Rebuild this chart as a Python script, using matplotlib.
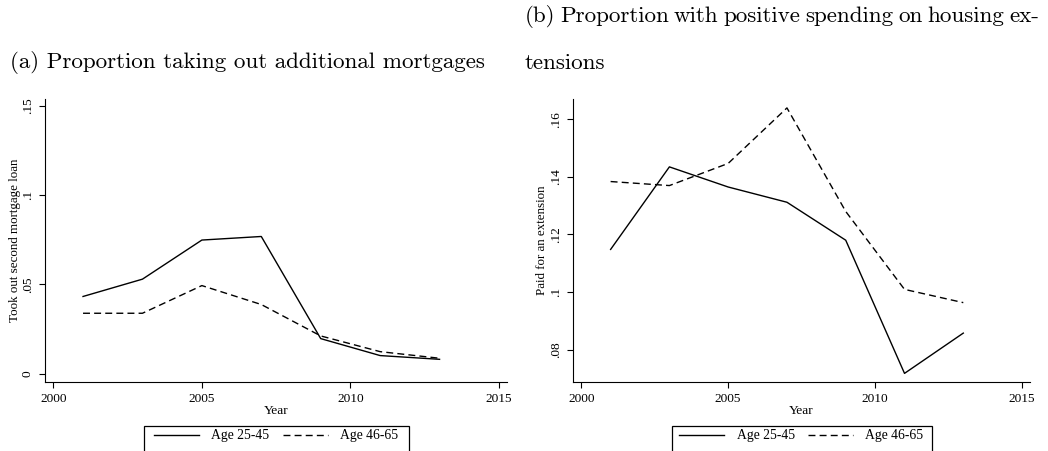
import matplotlib
matplotlib.use('Agg')
import matplotlib.pyplot as plt
from matplotlib.patches import Rectangle

years = [2001, 2003, 2005, 2007, 2009, 2011, 2013]

# (a) share taking out a second mortgage
mortgage_young = [0.0432, 0.0529, 0.0748, 0.0768, 0.0196, 0.0101, 0.0080]
mortgage_old = [0.0338, 0.0338, 0.0493, 0.0387, 0.0211, 0.0123, 0.0086]

# (b) share paying for a housing extension
extension_young = [0.1148, 0.1435, 0.1365, 0.1312, 0.1180, 0.0717, 0.0857]
extension_old = [0.1384, 0.1370, 0.1447, 0.1640, 0.1280, 0.1009, 0.0963]

labels = ["Age 25-45", "Age 46-65"]

W, H = 1048, 451
plt.rcParams['font.family'] = ['Liberation Serif', 'DejaVu Serif']
plt.rcParams['font.size'] = 9.4

fig = plt.figure(figsize=(W / 100, H / 100), dpi=100)


def px_axes(x0, x1, y0, y1):
    return fig.add_axes([x0 / W, 1 - y1 / H, (x1 - x0) / W, (y1 - y0) / H])


def style(ax, ylabel, yticks, yticklabels, ylim, xlabel_y, ylabel_x):
    for side in ('top', 'right'):
        ax.spines[side].set_visible(False)
    for side in ('left', 'bottom'):
        ax.spines[side].set_linewidth(0.8)
    ax.set_xlim(1999.72, 2015.27)
    ax.set_ylim(*ylim)
    ax.set_xticks([2000, 2005, 2010, 2015])
    ax.set_yticks(yticks)
    ax.set_yticklabels(yticklabels, rotation=90, va='center')
    ax.tick_params(length=4.5, width=0.8, pad=3.5, labelsize=9.6)
    ax.set_xlabel("Year", fontsize=9.6)
    ax.set_ylabel(ylabel)
    ax.xaxis.set_label_coords(0.5, xlabel_y)
    ax.xaxis.label.set_va('center')
    ax.yaxis.set_label_coords(ylabel_x, 0.5)
    ax.yaxis.label.set_va('center')


def draw(ax, young, old):
    l1, = ax.plot(years, young, color='black', lw=1.0)
    l2, = ax.plot(years, old, color='black', lw=1.0, dashes=(5, 3))
    return l1, l2


def legend(handles, cx, x0, x1):
    # box runs off the bottom edge, so draw it by hand
    fig.patches.append(Rectangle((x0 / W, 1 - 460 / H), (x1 - x0) / W, 34 / H,
                                 transform=fig.transFigure, fill=False,
                                 edgecolor='black', lw=0.9))
    fig.legend(handles, labels, loc='center', bbox_to_anchor=(cx / W, 1 - 436 / H),
               ncol=2, frameon=False, handlelength=3.3, handletextpad=0.9,
               columnspacing=1.0, fontsize=9.8, borderpad=0)


def justified(line, x0, x1, y, **kw):
    # spread the words of one caption line evenly between x0 and x1 (pixels)
    words = line.split(" ")
    texts = [fig.text(0, 1 - y / H, w, ha='left', va='center', **kw) for w in words]
    r = fig.canvas.get_renderer()
    widths = [t.get_window_extent(renderer=r).width for t in texts]
    gap = (x1 - x0 - sum(widths)) / (len(words) - 1)
    x = x0
    for t, w in zip(texts, widths):
        t.set_x(x / W)
        x += w + gap


ax1 = px_axes(45, 507, 99, 382)
h = draw(ax1, mortgage_young, mortgage_old)
style(ax1, "Took out second mortgage loan", [0, 0.05, 0.1, 0.15],
      ["0", ".05", ".1", ".15"], (-0.0047, 0.1538), -0.1025, -0.065)
legend(h, 276, 144, 409)

ax2 = px_axes(573, 1030, 99, 382)
h = draw(ax2, extension_young, extension_old)
style(ax2, "Paid for an extension", [0.08, 0.10, 0.12, 0.14, 0.16],
      [".08", ".1", ".12", ".14", ".16"], (0.0687, 0.1671), -0.1025, -0.0685)
legend(h, 801.5, 672, 932)

title_font = dict(family='cmr10', fontsize=16.6)
fig.text(10 / W, 1 - 63 / H, "(a) Proportion taking out additional mortgages",
         ha='left', va='center', **title_font)
justified("(b) Proportion with positive spending on housing ex-", 525, 1039, 16, **title_font)
fig.text(525 / W, 1 - 63 / H, "tensions", ha='left', va='center', **title_font)

fig.savefig("out.png", dpi=100)
